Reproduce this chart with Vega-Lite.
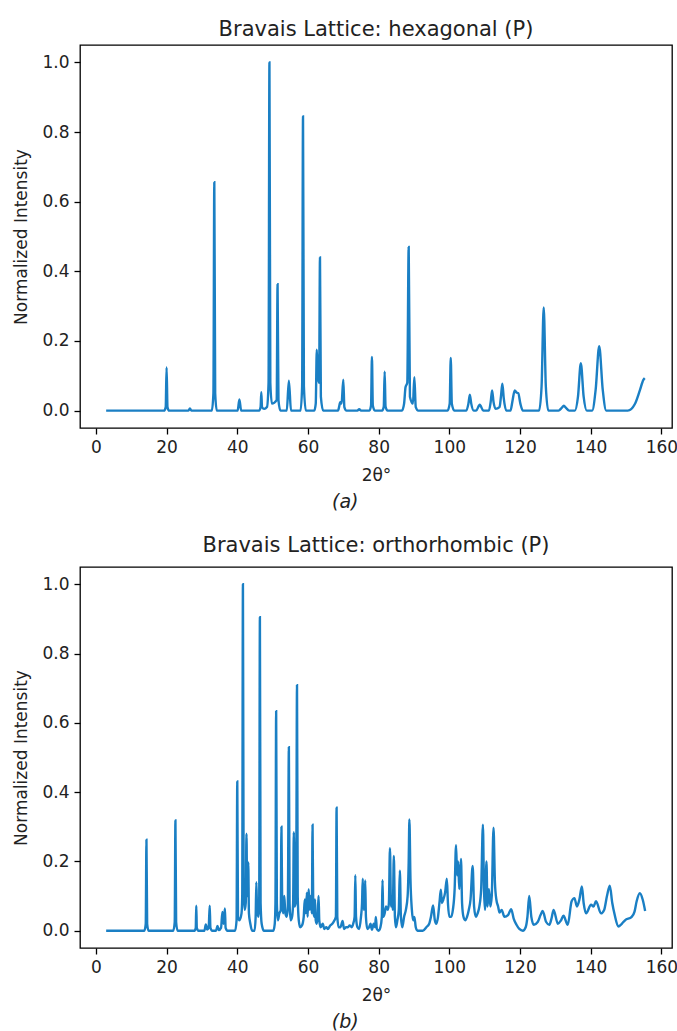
{
  "$schema": "https://vega.github.io/schema/vega-lite/v6.json",
  "background": "white",
  "padding": {"left": 12, "top": 18, "right": 5, "bottom": 5},
  "config": {
    "font": "DejaVu Sans",
    "view": {"stroke": "#000", "strokeWidth": 1.3},
    "axis": {"grid": false, "domain": false, "tickColor": "#000", "tickSize": 6, "tickWidth": 1.3, "labelFontSize": 17, "labelColor": "#222", "labelFont": "DejaVu Sans", "titleFont": "DejaVu Sans", "titleFontSize": 17, "titleFontWeight": "normal", "titleColor": "#222", "labelPadding": 5},
    "title": {"fontSize": 21, "fontWeight": "normal", "color": "#222", "font": "DejaVu Sans", "offset": 5},
    "concat": {"spacing": 22}
  },
  "datasets": {
    "hex": [
      {"x":2.9,"y":0},
      {"x":19.3,"y":0},{"x":19.75,"y":0.01},{"x":20.0,"y":0.124},{"x":20.25,"y":0.01},{"x":20.7,"y":0},
      {"x":26.2,"y":0},{"x":26.6,"y":0.006},{"x":27.0,"y":0},
      {"x":32.8,"y":0},{"x":33.25,"y":0.05},{"x":33.5,"y":0.656},{"x":33.75,"y":0.05},{"x":34.2,"y":0},
      {"x":40.1,"y":0},{"x":40.6,"y":0.032},{"x":41.1,"y":0},
      {"x":46.2,"y":0},{"x":46.6,"y":0.01},{"x":46.8,"y":0.053},{"x":47.0,"y":0.01},{"x":47.6,"y":0.005},
      {"x":48.4,"y":0.01},{"x":48.85,"y":0.08},{"x":49.1,"y":1.0},{"x":49.35,"y":0.08},{"x":49.8,"y":0.02},{"x":51.15,"y":0.03},{"x":51.4,"y":0.363},{"x":51.65,"y":0.03},{"x":52.2,"y":0},
      {"x":54.0,"y":0},{"x":54.6,"y":0.086},{"x":55.2,"y":0},
      {"x":57.9,"y":0},{"x":58.35,"y":0.07},{"x":58.6,"y":0.845},{"x":58.85,"y":0.07},{"x":59.4,"y":0},
      {"x":61.8,"y":0},{"x":62.2,"y":0.02},{"x":62.5,"y":0.175},{"x":62.8,"y":0.1},{"x":63.15,"y":0.08},{"x":63.4,"y":0.44},{"x":63.65,"y":0.04},{"x":64.3,"y":0},
      {"x":68.5,"y":0},{"x":68.9,"y":0.015},{"x":69.1,"y":0.024},{"x":69.5,"y":0.02},{"x":70.0,"y":0.089},{"x":70.3,"y":0.01},{"x":70.9,"y":0},
      {"x":74.0,"y":0},{"x":74.5,"y":0.004},{"x":75.0,"y":0},
      {"x":77.4,"y":0},{"x":77.85,"y":0.015},{"x":78.1,"y":0.154},{"x":78.35,"y":0.015},{"x":78.9,"y":0},
      {"x":81.0,"y":0},{"x":81.45,"y":0.012},{"x":81.7,"y":0.112},{"x":81.95,"y":0.012},{"x":82.5,"y":0},
      {"x":86.6,"y":0},{"x":87.2,"y":0.02},{"x":87.6,"y":0.067},{"x":88.1,"y":0.08},{"x":88.5,"y":0.47},{"x":88.85,"y":0.04},{"x":89.7,"y":0.02},{"x":90.1,"y":0.096},{"x":90.5,"y":0.01},{"x":91.2,"y":0},
      {"x":99.5,"y":0},{"x":100.1,"y":0.02},{"x":100.4,"y":0.151},{"x":100.7,"y":0.02},{"x":101.4,"y":0},
      {"x":104.8,"y":0},{"x":105.4,"y":0.02},{"x":105.8,"y":0.046},{"x":106.2,"y":0.02},{"x":106.9,"y":0},
      {"x":107.6,"y":0},{"x":108.6,"y":0.017},{"x":109.6,"y":0},
      {"x":111.2,"y":0},{"x":111.7,"y":0.025},{"x":112.1,"y":0.058},{"x":112.5,"y":0.025},{"x":113.1,"y":0.005},{"x":114.2,"y":0.01},{"x":114.6,"y":0.04},{"x":115.0,"y":0.077},{"x":115.4,"y":0.035},{"x":116.1,"y":0},
      {"x":117.3,"y":0},{"x":117.9,"y":0.03},{"x":118.5,"y":0.058},{"x":119.0,"y":0.052},{"x":119.5,"y":0.05},{"x":120.1,"y":0.02},{"x":120.8,"y":0},
      {"x":125.4,"y":0},{"x":126.1,"y":0.07},{"x":126.7,"y":0.296},{"x":127.3,"y":0.07},{"x":128.0,"y":0},
      {"x":130.9,"y":0},{"x":131.8,"y":0.008},{"x":132.4,"y":0.014},{"x":133.0,"y":0.008},{"x":133.9,"y":0},
      {"x":135.5,"y":0},{"x":136.4,"y":0.04},{"x":137.2,"y":0.136},{"x":138.0,"y":0.04},{"x":138.9,"y":0},
      {"x":140.4,"y":0},{"x":141.4,"y":0.06},{"x":142.4,"y":0.185},{"x":143.4,"y":0.06},{"x":144.4,"y":0},
      {"x":150.5,"y":0},{"x":152.5,"y":0.019},{"x":153.9,"y":0.058},{"x":154.9,"y":0.088},{"x":155.3,"y":0.093}
    ],
    "ortho": [
      {"x":2.9,"y":0},
      {"x":13.7,"y":0},{"x":14.1,"y":0.02},{"x":14.3,"y":0.263},{"x":14.5,"y":0.02},{"x":14.9,"y":0},
      {"x":21.9,"y":0},{"x":22.3,"y":0.025},{"x":22.5,"y":0.318},{"x":22.7,"y":0.025},{"x":23.1,"y":0},
      {"x":27.9,"y":0},{"x":28.25,"y":0.008},{"x":28.4,"y":0.072},{"x":28.55,"y":0.008},{"x":29.0,"y":0},
      {"x":30.7,"y":0},{"x":31.1,"y":0.018},{"x":31.5,"y":0.003},{"x":31.9,"y":0.008},{"x":32.2,"y":0.072},{"x":32.4,"y":0.008},{"x":32.9,"y":0},
      {"x":34.0,"y":0},{"x":34.4,"y":0.014},{"x":34.8,"y":0.002},{"x":35.4,"y":0.008},{"x":35.8,"y":0.054},{"x":36.1,"y":0.02},{"x":36.5,"y":0.064},{"x":36.7,"y":0.008},{"x":37.2,"y":0},
      {"x":39.4,"y":0},{"x":39.8,"y":0.03},{"x":40.0,"y":0.431},{"x":40.2,"y":0.04},{"x":40.6,"y":0.03},{"x":41.2,"y":0.05},{"x":41.4,"y":0.1},{"x":41.6,"y":1.0},{"x":41.8,"y":0.12},{"x":42.1,"y":0.06},{"x":42.4,"y":0.08},{"x":42.6,"y":0.28},{"x":42.8,"y":0.1},{"x":43.0,"y":0.12},{"x":43.1,"y":0.197},{"x":43.3,"y":0.05},{"x":43.7,"y":0.02},{"x":44.2,"y":0},
      {"x":44.9,"y":0},{"x":45.2,"y":0.04},{"x":45.4,"y":0.14},{"x":45.6,"y":0.06},{"x":46.0,"y":0.04},{"x":46.2,"y":0.08},{"x":46.4,"y":0.905},{"x":46.6,"y":0.08},{"x":46.9,"y":0.02},{"x":47.5,"y":0},
      {"x":50.2,"y":0},{"x":50.6,"y":0.02},{"x":50.8,"y":0.08},{"x":51.0,"y":0.634},{"x":51.2,"y":0.08},{"x":51.5,"y":0.03},{"x":51.9,"y":0.05},{"x":52.3,"y":0.06},{"x":52.5,"y":0.30},{"x":52.7,"y":0.08},{"x":53.0,"y":0.05},{"x":53.3,"y":0.1},{"x":53.6,"y":0.05},{"x":54.0,"y":0.04},{"x":54.3,"y":0.07},{"x":54.6,"y":0.53},{"x":54.8,"y":0.08},{"x":55.1,"y":0.03},{"x":55.5,"y":0.04},{"x":55.8,"y":0.08},{"x":56.0,"y":0.284},{"x":56.2,"y":0.07},{"x":56.5,"y":0.08},{"x":56.7,"y":0.2},{"x":56.9,"y":0.709},{"x":57.1,"y":0.1},{"x":57.4,"y":0.03},{"x":57.8,"y":0.01},{"x":58.3,"y":0.015},{"x":58.8,"y":0.04},
      {"x":59.1,"y":0.09},{"x":59.4,"y":0.05},{"x":59.7,"y":0.11},{"x":59.9,"y":0.04},{"x":60.2,"y":0.12},{"x":60.5,"y":0.06},{"x":60.8,"y":0.1},{"x":61.1,"y":0.05},{"x":61.3,"y":0.306},{"x":61.5,"y":0.06},{"x":61.8,"y":0.04},{"x":62.0,"y":0.09},{"x":62.2,"y":0.03},{"x":62.5,"y":0.02},{"x":62.8,"y":0.05},{"x":63.0,"y":0.1},{"x":63.2,"y":0.03},{"x":63.6,"y":0.01},{"x":64.2,"y":0.02},{"x":64.6,"y":0.005},{"x":65.2,"y":0.01},{"x":65.6,"y":0.005},{"x":66.3,"y":0.015},{"x":66.9,"y":0.02},{"x":67.5,"y":0.03},{"x":67.9,"y":0.04},{"x":68.1,"y":0.355},{"x":68.3,"y":0.04},{"x":68.7,"y":0.01},{"x":69.2,"y":0.01},{"x":69.8,"y":0.028},{"x":70.2,"y":0.005},{"x":70.8,"y":0.01},{"x":71.3,"y":0.01},{"x":71.8,"y":0.015},{"x":72.4,"y":0.01},{"x":72.8,"y":0.02},{"x":73.2,"y":0.04},{"x":73.4,"y":0.16},{"x":73.6,"y":0.04},{"x":74.0,"y":0.01},{"x":74.5,"y":0.005},{"x":75.0,"y":0.04},{"x":75.3,"y":0.08},{"x":75.5,"y":0.15},{"x":75.8,"y":0.06},{"x":76.0,"y":0.08},{"x":76.2,"y":0.145},{"x":76.4,"y":0.04},{"x":76.8,"y":0.005},{"x":77.3,"y":0.01},{"x":77.7,"y":0.02},{"x":78.1,"y":0.003},{"x":78.6,"y":0.02},{"x":79.0,"y":0.01},{"x":79.2,"y":0.04},{"x":79.5,"y":0.005},{"x":80.0,"y":0.0},{"x":80.5,"y":0.01},{"x":80.9,"y":0.04},{"x":81.1,"y":0.146},{"x":81.3,"y":0.04},{"x":81.7,"y":0.05},{"x":82.1,"y":0.07},{"x":82.6,"y":0.06},{"x":82.9,"y":0.08},{"x":83.2,"y":0.238},{"x":83.5,"y":0.07},{"x":83.8,"y":0.1},{"x":84.0,"y":0.06},{"x":84.3,"y":0.216},{"x":84.6,"y":0.04},{"x":84.9,"y":0.01},{"x":85.3,"y":0.03},{"x":85.7,"y":0.06},{"x":86.0,"y":0.173},{"x":86.3,"y":0.04},{"x":86.7,"y":0.01},{"x":87.2,"y":0.04},{"x":87.7,"y":0.06},{"x":88.2,"y":0.1},{"x":88.5,"y":0.2},{"x":88.7,"y":0.321},{"x":89.0,"y":0.15},{"x":89.4,"y":0.06},{"x":89.8,"y":0.03},{"x":90.1,"y":0.04},{"x":90.5,"y":0.01},{"x":91.0,"y":0},{"x":92.5,"y":0},{"x":93.5,"y":0.01},{"x":94.3,"y":0.02},{"x":94.8,"y":0.04},{"x":95.4,"y":0.073},{"x":95.9,"y":0.03},{"x":96.3,"y":0.02},{"x":96.8,"y":0.04},{"x":97.2,"y":0.08},{"x":97.6,"y":0.118},{"x":97.9,"y":0.08},{"x":98.3,"y":0.09},{"x":98.8,"y":0.11},{"x":99.3,"y":0.15},{"x":99.6,"y":0.08},{"x":100.0,"y":0.04},{"x":100.5,"y":0.04},{"x":101.0,"y":0.06},{"x":101.5,"y":0.12},{"x":101.9,"y":0.247},{"x":102.2,"y":0.16},{"x":102.5,"y":0.2},{"x":102.8,"y":0.12},{"x":103.3,"y":0.207},{"x":103.6,"y":0.08},{"x":104.0,"y":0.04},{"x":104.5,"y":0.03},{"x":105.0,"y":0.04},{"x":105.5,"y":0.06},{"x":106.0,"y":0.09},{"x":106.6,"y":0.187},{"x":107.0,"y":0.07},{"x":107.5,"y":0.04},{"x":108.0,"y":0.05},{"x":108.5,"y":0.07},{"x":109.0,"y":0.12},{"x":109.5,"y":0.306},{"x":109.8,"y":0.12},{"x":110.1,"y":0.06},{"x":110.5,"y":0.2},{"x":110.8,"y":0.07},{"x":111.2,"y":0.12},{"x":111.6,"y":0.07},{"x":112.0,"y":0.1},{"x":112.5,"y":0.297},{"x":112.9,"y":0.14},{"x":113.3,"y":0.09},{"x":113.8,"y":0.07},{"x":114.2,"y":0.052},{"x":114.8,"y":0.06},{"x":115.6,"y":0.04},{"x":116.6,"y":0.045},{"x":117.5,"y":0.062},{"x":118.2,"y":0.035},{"x":119.0,"y":0.017},{"x":119.8,"y":0.005},{"x":120.8,"y":0.0},{"x":121.6,"y":0.01},{"x":122.1,"y":0.04},{"x":122.6,"y":0.1},{"x":123.2,"y":0.04},{"x":123.9,"y":0.017},{"x":125.0,"y":0.025},{"x":125.8,"y":0.045},{"x":126.4,"y":0.057},{"x":127.4,"y":0.025},{"x":128.3,"y":0.017},{"x":128.9,"y":0.035},{"x":129.5,"y":0.06},{"x":130.7,"y":0.02},{"x":131.6,"y":0.03},{"x":132.3,"y":0.043},{"x":133.5,"y":0.017},{"x":134.6,"y":0.085},{"x":135.4,"y":0.094},{"x":136.1,"y":0.07},{"x":136.8,"y":0.09},{"x":137.5,"y":0.128},{"x":138.0,"y":0.08},{"x":138.7,"y":0.05},{"x":140.1,"y":0.075},{"x":140.8,"y":0.07},{"x":141.5,"y":0.085},{"x":142.9,"y":0.05},{"x":143.8,"y":0.06},{"x":144.6,"y":0.1},{"x":145.4,"y":0.13},{"x":146.1,"y":0.08},{"x":146.8,"y":0.045},{"x":147.8,"y":0.012},{"x":148.8,"y":0.02},{"x":149.7,"y":0.03},{"x":151.6,"y":0.04},{"x":152.4,"y":0.055},{"x":153.0,"y":0.085},{"x":153.9,"y":0.108},{"x":154.7,"y":0.09},{"x":155.4,"y":0.057}
    ]
  },
  "vconcat": [
    {
      "title": {"text": "(a)", "orient": "bottom", "anchor": "middle", "fontStyle": "italic", "fontSize": 19, "offset": 9},
      "vconcat": [
        {
          "width": 592, "height": 383,
          "title": {"text": "Bravais Lattice: hexagonal (P)"},
          "data": {"name": "hex"},
          "mark": {"type": "line", "color": "#1a7fc4", "strokeWidth": 2.4, "clip": true, "interpolate": "monotone"},
          "encoding": {
            "x": {"field": "x", "type": "quantitative", "scale": {"domain": [-4.5, 163], "nice": false, "zero": false},
                  "axis": {"values": [0, 20, 40, 60, 80, 100, 120, 140, 160], "title": "2θ°", "titlePadding": 12}},
            "y": {"field": "y", "type": "quantitative", "scale": {"domain": [-0.05, 1.05], "nice": false},
                  "axis": {"values": [0, 0.2, 0.4, 0.6, 0.8, 1.0], "format": ".1f", "title": "Normalized Intensity", "titlePadding": 11}}
          }
        }
      ]
    },
    {
      "title": {"text": "(b)", "orient": "bottom", "anchor": "middle", "fontStyle": "italic", "fontSize": 19, "offset": 9},
      "vconcat": [
        {
          "width": 592, "height": 381,
          "title": {"text": "Bravais Lattice: orthorhombic (P)", "offset": 11},
          "data": {"name": "ortho"},
          "mark": {"type": "line", "color": "#1a7fc4", "strokeWidth": 2.4, "clip": true, "interpolate": "monotone"},
          "encoding": {
            "x": {"field": "x", "type": "quantitative", "scale": {"domain": [-4.5, 163], "nice": false, "zero": false},
                  "axis": {"values": [0, 20, 40, 60, 80, 100, 120, 140, 160], "title": "2θ°", "titlePadding": 12}},
            "y": {"field": "y", "type": "quantitative", "scale": {"domain": [-0.05, 1.05], "nice": false},
                  "axis": {"values": [0, 0.2, 0.4, 0.6, 0.8, 1.0], "format": ".1f", "title": "Normalized Intensity", "titlePadding": 11}}
          }
        }
      ]
    }
  ]
}
